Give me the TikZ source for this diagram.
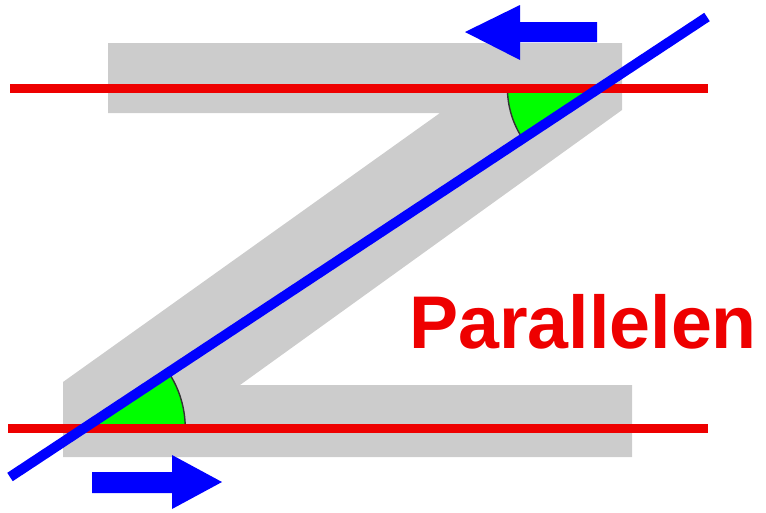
\documentclass[tikz,border=0pt]{standalone}
\usepackage{fontspec}
\setmainfont{Liberation Sans}
\usetikzlibrary{intersections}
\definecolor{zgray}{RGB}{204,204,204}
\definecolor{lred}{RGB}{238,0,0}
\definecolor{lblue}{RGB}{0,0,255}
\definecolor{lgreen}{RGB}{0,255,0}
\tikzset{
  redline/.style={draw=lred, line width=9*0.02cm},
  blueline/.style={draw=lblue, line width=10*0.02cm},
  wedge/.style={fill=lgreen},
  wedgearc/.style={draw=black!80, line width=0.8pt},
  bluearrow/.style={fill=lblue},
  zshape/.style={fill=zgray},
  label/.style={text=lred, font=\bfseries\fontsize{42.5}{42.5}\selectfont, inner sep=0pt, anchor=base west, xscale=0.985}
}
\begin{document}
\begin{tikzpicture}[x=0.02cm,y=0.02cm]
\useasboundingbox (0,0) rectangle (766,512);
% gray Z
\path[zshape] (108,469) -- (622,469) -- (622,402) -- (240,127) -- (632,127) -- (632,55)
  -- (63,55) -- (63,130) -- (440,399) -- (108,399) -- cycle;
% named end points
\coordinate (rtA) at (10,424);
\coordinate (rtB) at (708,424);
\coordinate (rbA) at (8,84);
\coordinate (rbB) at (708,84);
\coordinate (bA) at (10,35);
\coordinate (bB) at (707,495);
\path[name path=top] (rtA) -- (rtB);
\path[name path=bot] (rbA) -- (rbB);
\path[name path=trans] (bA) -- (bB);
\path[name intersections={of=top and trans, by=it}];
\path[name intersections={of=bot and trans, by=ib}];
% green angles
\fill[wedge] (ib) -- ++(0:101) arc[start angle=0, end angle=33.4, radius=101] -- cycle;
\draw[wedgearc] (ib) ++(0:101) arc[start angle=0, end angle=33.4, radius=101];
\fill[wedge] (it) -- ++(180:92) arc[start angle=180, end angle=213.4, radius=92] -- cycle;
\draw[wedgearc] (it) ++(180:92) arc[start angle=180, end angle=213.4, radius=92];
% red parallels
\draw[redline] (rtA) -- (rtB);
\draw[redline] (rbA) -- (rbB);
% blue transversal
\draw[blueline] (bA) -- (bB);
% arrows
\fill[bluearrow] (465,480) -- (520,507) -- (520,490) -- (597,490) -- (597,470) -- (520,470) -- (520,452) -- cycle;
\fill[bluearrow] (222,30) -- (172,57) -- (172,40) -- (92,40) -- (92,19) -- (172,19) -- (172,3) -- cycle;
% text
\node[label] (lbl) at (409,164) {Parallelen};
\end{tikzpicture}
\end{document}
